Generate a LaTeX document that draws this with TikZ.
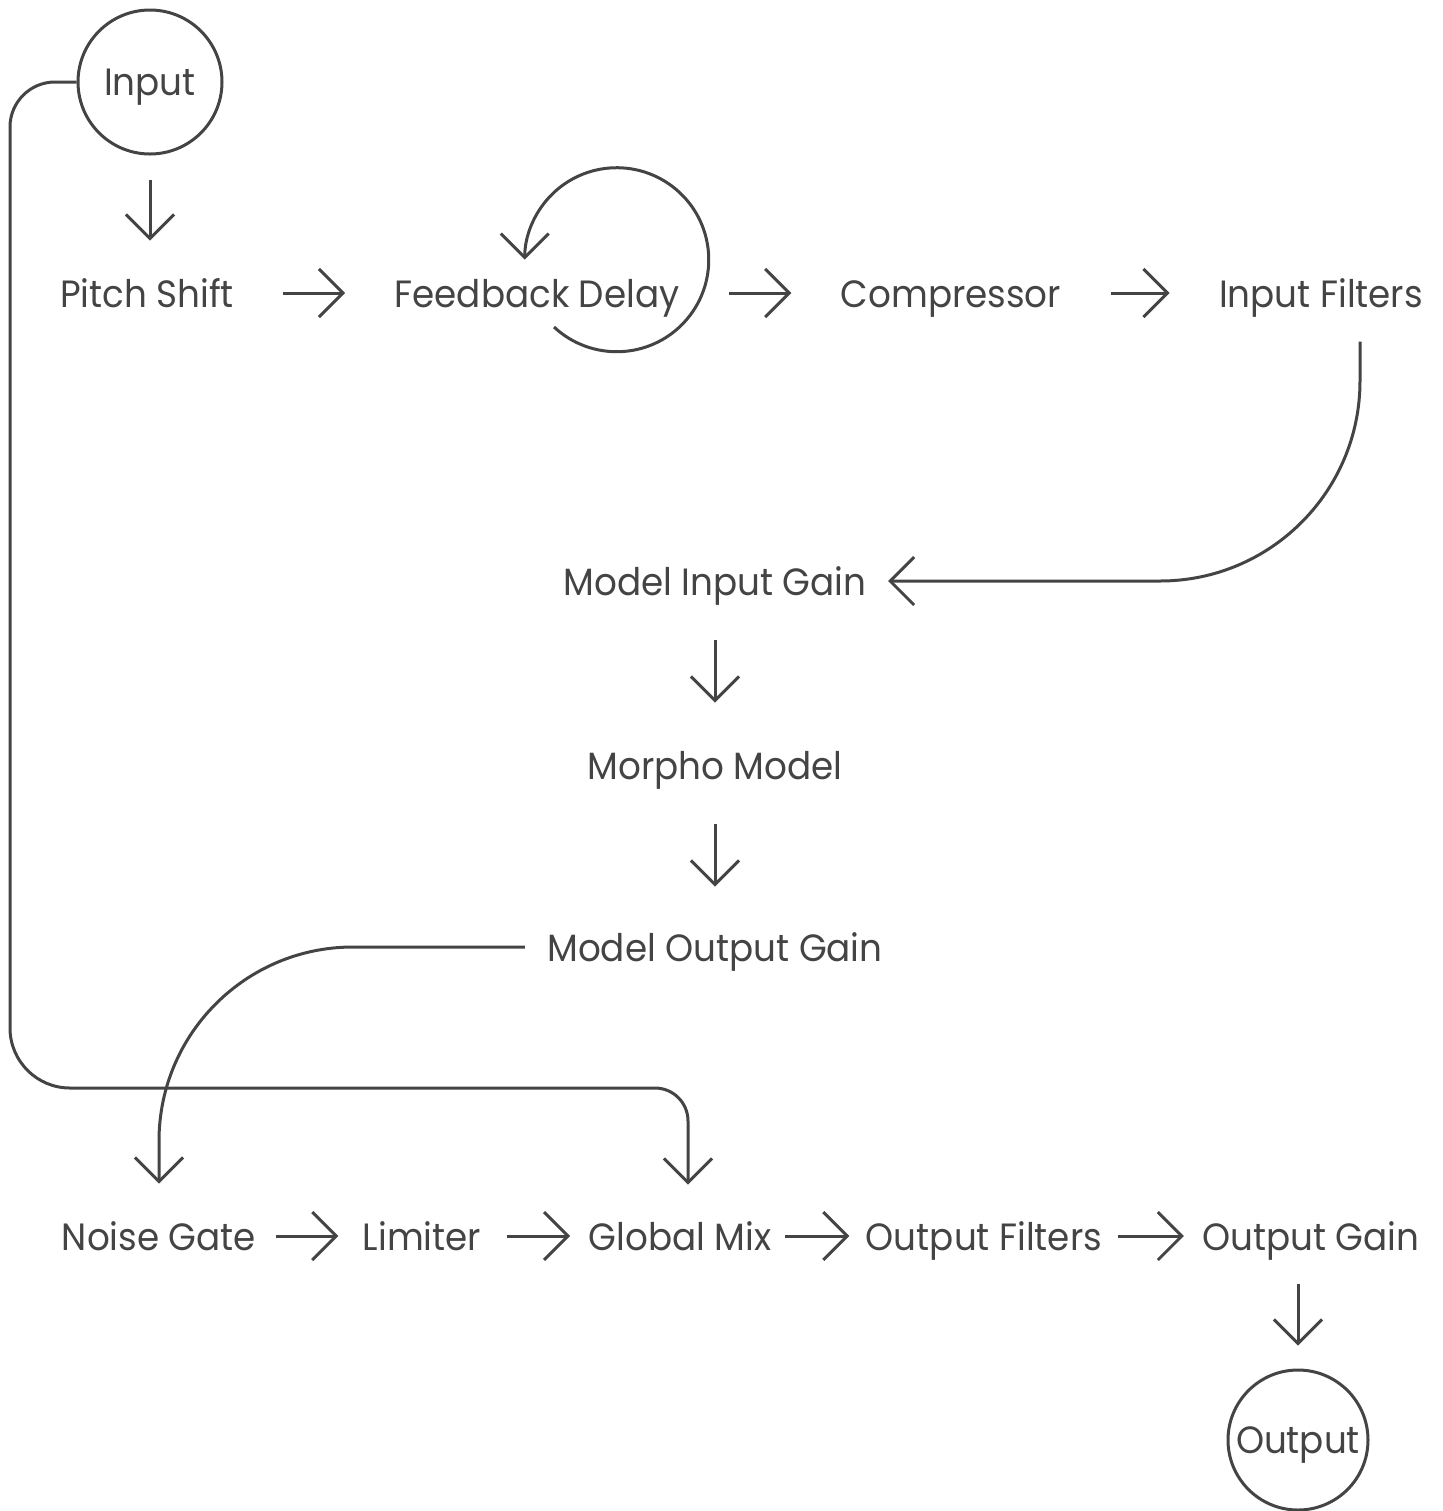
\documentclass[tikz,border=0pt]{standalone}
\usepackage{fontspec}
\setmainfont{Poppins}[FakeStretch=0.94]
\usetikzlibrary{arrows.meta}
\definecolor{inkgray}{RGB}{68,68,68}

\begin{document}
\begin{tikzpicture}[x=0.5pt,y=-0.5pt,
  >={Straight Barb[length=12pt,width=24pt]},
  line width=1.5pt,
  every node/.style={text=inkgray,
                     font=\fontsize{19}{23}\selectfont},
  stage/.style={inner sep=0pt,
                text height=14pt,
                text depth=0pt,
                anchor=base},
  port/.style={circle,
               draw=inkgray,
               inner sep=0pt,
               text height=13pt,
               text depth=0pt,
               minimum size=#1},
  flow/.style={->, draw=inkgray},
  hflow/.style={flow, shorten <=24pt, shorten >=24pt}]
\useasboundingbox (0,0) rectangle (1442,1511);
% signal chain
\node [port=72pt] (input) at (150,82) {Input};
\node [stage] (pitch) at (147,307) {Pitch Shift};
\node [stage] (fdelay) at (537,307) {Feedback Delay};
\node [stage] (comp) at (951,307) {Compressor};
\node [stage] (ifilt) at (1321,307) {Input Filters};
\node [stage] (mig) at (715,595) {Model Input Gain};
\node [stage] (morpho) at (715,779) {Morpho Model};
\node [stage] (mog) at (715,961) {Model Output Gain};
\node [stage] (ng) at (159,1250) {Noise Gate};
\node [stage] (lim) at (422,1250) {Limiter};
\node [stage] (gmix) at (680,1250) {Global Mix};
\node [stage] (ofilt) at (984,1250) {Output Filters};
\node [stage] (ogain) at (1311,1250) {Output Gain};
\node [port=70pt] (output) at (1298,1440) {Output};
\coordinate (fbloop) at (554,327);
\coordinate (busleft) at (10,1088);

\draw[flow, shorten <=12pt, shorten >=18.5pt] (input) -- (input |- pitch.north);
\draw[hflow] (pitch) -- (fdelay);
\draw[hflow] (fdelay) -- (comp);
\draw[hflow] (comp) -- (ifilt);
\draw[flow] (fbloop) arc[start angle=133, end angle=-180, radius=92];
\draw[flow, rounded corners=100pt, shorten <=16.5pt, shorten >=10pt] ([xshift=19.5pt]ifilt.south) |- (mig.east);
\draw[flow, shorten <=21.5pt, shorten >=23.5pt] (mig) -- (morpho);
\draw[flow, shorten <=21.5pt, shorten >=22.5pt] (morpho) -- (mog);
\draw[flow, rounded corners=97pt, shorten <=10.5pt, shorten >=18.5pt] (mog.west) -| (ng.north);
% dry path
\draw[flow, shorten >=18pt] (input.west) [rounded corners=22.5pt] -- (busleft |- input.west)
  [rounded corners=30pt] -- (busleft)
  [rounded corners=16.5pt] -- ([xshift=4pt]gmix.north |- busleft) -- ([xshift=4pt]gmix.north);
\draw[flow, shorten <=9pt, shorten >=11.5pt] (ng) -- (lim);
\draw[flow, shorten <=12pt, shorten >=8.5pt] (lim) -- (gmix);
\draw[flow, shorten <=6pt, shorten >=7.5pt] (gmix) -- (ofilt);
\draw[flow, shorten <=7pt, shorten >=8.5pt] (ofilt) -- (ogain);
\draw[flow, shorten <=16pt, shorten >=11.5pt] (output |- ogain.south) -- (output);
\end{tikzpicture}
\end{document}
